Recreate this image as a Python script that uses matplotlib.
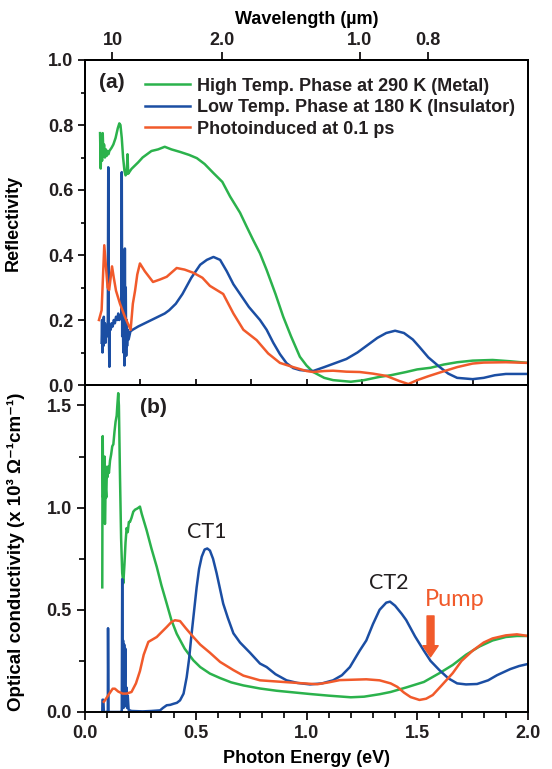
import matplotlib
matplotlib.use("Agg")
import matplotlib.pyplot as plt
from matplotlib.ticker import MultipleLocator, FormatStrFormatter

# ---- panel (a): reflectivity ----
refl_high_e = [0.068, 0.071, 0.074, 0.077, 0.080, 0.083, 0.086, 0.090, 0.094, 0.098, 0.102,
               0.106, 0.110, 0.115, 0.120, 0.128, 0.138, 0.148, 0.155, 0.160, 0.166, 0.172,
               0.178, 0.183, 0.188, 0.192, 0.195, 0.200, 0.210, 0.225, 0.240, 0.260, 0.280,
               0.300, 0.330, 0.360, 0.390, 0.430, 0.470, 0.505, 0.540, 0.580, 0.620, 0.655,
               0.700, 0.730, 0.760, 0.790, 0.820, 0.860, 0.895, 0.930, 0.970, 1.000, 1.030,
               1.080, 1.120, 1.200, 1.260, 1.330, 1.380, 1.450, 1.500, 1.560, 1.620, 1.680,
               1.750, 1.840, 1.920, 2.000]
refl_high = [0.775, 0.666, 0.77, 0.69, 0.775, 0.71, 0.74, 0.70, 0.725, 0.705, 0.72,
             0.71, 0.72, 0.725, 0.73, 0.74, 0.76, 0.79, 0.805, 0.80, 0.76, 0.70,
             0.66, 0.645, 0.65, 0.71, 0.65, 0.655, 0.665, 0.675, 0.685, 0.70, 0.71,
             0.72, 0.725, 0.733, 0.725, 0.717, 0.708, 0.698, 0.68, 0.652, 0.625, 0.58,
             0.53, 0.487, 0.445, 0.405, 0.354, 0.28, 0.21, 0.15, 0.087, 0.06, 0.04,
             0.022, 0.015, 0.01, 0.015, 0.025, 0.03, 0.04, 0.048, 0.053, 0.063, 0.07,
             0.075, 0.077, 0.073, 0.068]

refl_low_e = [0.075, 0.077, 0.079, 0.081, 0.083, 0.085, 0.087, 0.090, 0.093, 0.096, 0.100,
              0.103, 0.105, 0.107, 0.110, 0.112, 0.116, 0.120, 0.125, 0.130, 0.135, 0.140,
              0.146, 0.150, 0.155, 0.160, 0.164, 0.166, 0.168, 0.171, 0.173, 0.176, 0.178,
              0.180, 0.182, 0.184, 0.186, 0.188, 0.190, 0.193, 0.197, 0.205, 0.215, 0.240,
              0.270, 0.300, 0.330, 0.360, 0.380, 0.410, 0.440, 0.480, 0.520, 0.550, 0.580,
              0.610, 0.640, 0.670, 0.700, 0.740, 0.790, 0.820, 0.850, 0.880, 0.910, 0.940,
              0.970, 1.000, 1.030, 1.080, 1.120, 1.180, 1.230, 1.270, 1.320, 1.360, 1.400,
              1.440, 1.480, 1.510, 1.550, 1.600, 1.640, 1.680, 1.750, 1.800, 1.850, 1.900,
              2.000]
refl_low = [0.13, 0.20, 0.10, 0.18, 0.12, 0.21, 0.14, 0.19, 0.13, 0.18, 0.15,
            0.20, 0.67, 0.20, 0.056, 0.18, 0.17, 0.19, 0.18, 0.20, 0.19, 0.21,
            0.20, 0.22, 0.20, 0.21, 0.22, 0.655, 0.15, 0.20, 0.10, 0.20, 0.06,
            0.42, 0.11, 0.30, 0.09, 0.20, 0.12, 0.17, 0.14, 0.165, 0.17, 0.18,
            0.19, 0.20, 0.21, 0.22, 0.23, 0.25, 0.28, 0.33, 0.37, 0.385, 0.394,
            0.385, 0.35, 0.31, 0.28, 0.24, 0.20, 0.17, 0.13, 0.095, 0.067, 0.052,
            0.046, 0.044, 0.043, 0.055, 0.065, 0.08, 0.10, 0.12, 0.145, 0.16, 0.167,
            0.16, 0.14, 0.117, 0.085, 0.056, 0.035, 0.022, 0.018, 0.022, 0.03, 0.034,
            0.034]

refl_photo_e = [0.063, 0.075, 0.087, 0.095, 0.102, 0.109, 0.122, 0.130, 0.140, 0.158, 0.180,
                0.206, 0.216, 0.226, 0.236, 0.248, 0.270, 0.307, 0.340, 0.369, 0.414, 0.450,
                0.490, 0.530, 0.564, 0.600, 0.624, 0.670, 0.715, 0.775, 0.827, 0.880, 0.940,
                1.000, 1.030, 1.080, 1.120, 1.180, 1.240, 1.300, 1.360, 1.420, 1.460, 1.500,
                1.550, 1.600, 1.680, 1.750, 1.800, 1.900, 2.000]
refl_photo = [0.20, 0.23, 0.43, 0.36, 0.30, 0.292, 0.365, 0.33, 0.29, 0.25, 0.21,
              0.17, 0.25, 0.29, 0.34, 0.374, 0.35, 0.317, 0.325, 0.333, 0.36, 0.355,
              0.345, 0.33, 0.305, 0.29, 0.28, 0.22, 0.17, 0.138, 0.097, 0.068, 0.055,
              0.043, 0.04, 0.043, 0.044, 0.041, 0.040, 0.035, 0.028, 0.012, 0.003, 0.015,
              0.027, 0.038, 0.055, 0.066, 0.069, 0.070, 0.068]

# ---- panel (b): optical conductivity (x 10^3 Ohm^-1 cm^-1) ----
cond_high_e = [0.078, 0.079, 0.080, 0.082, 0.084, 0.086, 0.088, 0.090, 0.093, 0.096, 0.099,
               0.102, 0.105, 0.108, 0.113, 0.118, 0.123, 0.128, 0.133, 0.138, 0.143, 0.146,
               0.150, 0.153, 0.158, 0.163, 0.168, 0.173, 0.178, 0.183, 0.188, 0.193, 0.198,
               0.203, 0.210, 0.218, 0.226, 0.235, 0.242, 0.248, 0.256, 0.278, 0.300, 0.324,
               0.345, 0.369, 0.390, 0.414, 0.450, 0.489, 0.520, 0.564, 0.610, 0.660, 0.715,
               0.790, 0.865, 0.950, 1.016, 1.100, 1.200, 1.260, 1.330, 1.380, 1.450, 1.530,
               1.600, 1.660, 1.720, 1.780, 1.840, 1.900, 1.950, 2.000]
cond_high = [0.61, 1.17, 1.35, 1.05, 1.15, 0.95, 1.25, 0.92, 1.10, 1.05, 1.20,
             1.15, 1.20, 1.17, 1.23, 1.26, 1.30, 1.31, 1.37, 1.42, 1.45, 1.50,
             1.56, 1.50, 1.15, 0.85, 0.68, 0.63, 0.72, 0.83, 0.90, 0.88, 0.93,
             0.93, 0.95, 0.98, 0.99, 0.995, 1.00, 1.005, 0.97, 0.89, 0.80, 0.71,
             0.62, 0.53, 0.45, 0.383, 0.31, 0.253, 0.22, 0.188, 0.166, 0.145, 0.13,
             0.115, 0.104, 0.095, 0.088, 0.08, 0.072, 0.075, 0.087, 0.098, 0.12, 0.147,
             0.19, 0.23, 0.28, 0.32, 0.35, 0.367, 0.372, 0.372]

cond_low_e = [0.078, 0.079, 0.083, 0.085, 0.100, 0.103, 0.104, 0.106, 0.160, 0.166, 0.168,
              0.170, 0.172, 0.174, 0.177, 0.179, 0.182, 0.184, 0.187, 0.190, 0.193, 0.197,
              0.210, 0.260, 0.300, 0.339, 0.352, 0.369, 0.385, 0.399, 0.415, 0.429, 0.445,
              0.459, 0.470, 0.480, 0.492, 0.504, 0.515, 0.527, 0.540, 0.552, 0.564, 0.578,
              0.594, 0.610, 0.624, 0.645, 0.670, 0.700, 0.745, 0.790, 0.820, 0.860, 0.910,
              0.960, 1.016, 1.070, 1.120, 1.160, 1.196, 1.240, 1.270, 1.300, 1.330, 1.360,
              1.377, 1.400, 1.430, 1.450, 1.490, 1.530, 1.560, 1.600, 1.640, 1.680, 1.720,
              1.770, 1.820, 1.860, 1.920, 1.960, 2.000]
cond_low = [0.0, 0.06, 0.06, 0.0, 0.0, 0.0, 0.41, 0.0, 0.0, 0.0, 0.65,
            0.10, 0.35, 0.02, 0.33, 0.05, 0.31, 0.03, 0.12, 0.02, 0.08, 0.01,
            0.005, 0.003, 0.005, 0.008, 0.02, 0.033, 0.035, 0.04, 0.045, 0.057, 0.09,
            0.17, 0.26, 0.37, 0.49, 0.61, 0.70, 0.76, 0.795, 0.80, 0.79, 0.75,
            0.68, 0.60, 0.53, 0.46, 0.385, 0.34, 0.29, 0.237, 0.22, 0.185, 0.155,
            0.142, 0.135, 0.14, 0.155, 0.18, 0.22, 0.30, 0.35, 0.43, 0.50, 0.535,
            0.54, 0.52, 0.48, 0.45, 0.37, 0.30, 0.25, 0.205, 0.165, 0.14, 0.135,
            0.137, 0.155, 0.18, 0.21, 0.225, 0.235]

cond_photo_e = [0.085, 0.090, 0.110, 0.125, 0.135, 0.150, 0.170, 0.188, 0.210, 0.230, 0.248,
                0.265, 0.286, 0.305, 0.324, 0.345, 0.369, 0.390, 0.406, 0.429, 0.455, 0.489,
                0.520, 0.564, 0.610, 0.670, 0.715, 0.790, 0.895, 1.016, 1.050, 1.100, 1.150,
                1.270, 1.330, 1.380, 1.410, 1.440, 1.470, 1.510, 1.540, 1.570, 1.610, 1.660,
                1.700, 1.750, 1.800, 1.840, 1.900, 1.950, 2.000]
cond_photo = [0.05, 0.057, 0.09, 0.114, 0.114, 0.10, 0.09, 0.09, 0.098, 0.14, 0.20,
              0.28, 0.343, 0.355, 0.367, 0.39, 0.416, 0.44, 0.449, 0.445, 0.41, 0.367,
              0.33, 0.29, 0.245, 0.205, 0.178, 0.155, 0.147, 0.138, 0.136, 0.145, 0.156,
              0.16, 0.155, 0.14, 0.123, 0.095, 0.073, 0.059, 0.065, 0.083, 0.13, 0.19,
              0.25, 0.30, 0.34, 0.36, 0.375, 0.38, 0.372]

wavelengths = [10, 2.0, 1.0, 0.8]
wavelength_labels = ["10", "2.0", "1.0", "0.8"]

legend_labels = ["High Temp. Phase at 290 K (Metal)",
                 "Low Temp. Phase at 180 K (Insulator)",
                 "Photoinduced at 0.1 ps"]

GREEN = "#2bb24c"
BLUE = "#1b4ea3"
RED = "#f15a2b"
TXT = "#231f20"

plt.rcParams["font.family"] = ["Liberation Sans", "DejaVu Sans"]
plt.rcParams["font.weight"] = "bold"
plt.rcParams["axes.linewidth"] = 1.4
plt.rcParams["text.color"] = TXT

W, H = 552, 769
fig = plt.figure(figsize=(W / 100, H / 100), dpi=100)
x0, x1 = 85, 528
ax1 = fig.add_axes([x0 / W, 1 - 385 / H, (x1 - x0) / W, 325 / H])
ax2 = fig.add_axes([x0 / W, 1 - 712 / H, (x1 - x0) / W, 327 / H])

lw = 1.8
l1, = ax1.plot(refl_high_e, refl_high, color=GREEN, lw=lw)
l2, = ax1.plot(refl_low_e, refl_low, color=BLUE, lw=lw)
l3, = ax1.plot(refl_photo_e, refl_photo, color=RED, lw=lw)

ax2.plot(cond_high_e, cond_high, color=GREEN, lw=lw)
ax2.plot(cond_low_e, cond_low, color=BLUE, lw=lw)
ax2.plot(cond_photo_e, cond_photo, color=RED, lw=lw)

for ax in (ax1, ax2):
    ax.set_xlim(0, 2.0)
    ax.tick_params(labelsize=13, colors=TXT, width=1.4)

ax1.set_ylim(0, 1.0)
ax1.yaxis.set_major_locator(MultipleLocator(0.2))
ax1.yaxis.set_minor_locator(MultipleLocator(0.1))
ax1.yaxis.set_major_formatter(FormatStrFormatter("%.1f"))
ax1.xaxis.set_major_locator(MultipleLocator(0.25))
ax1.tick_params(axis="x", which="both", direction="in", length=4, labelbottom=False)
ax1.tick_params(axis="y", which="major", direction="out", length=5)
ax1.tick_params(axis="y", which="minor", direction="out", length=3, width=1.2)

ax2.set_ylim(0, 1.6)
ax2.yaxis.set_major_locator(MultipleLocator(0.5))
ax2.yaxis.set_minor_locator(MultipleLocator(0.25))
ax2.yaxis.set_major_formatter(FormatStrFormatter("%.1f"))
ax2.xaxis.set_major_locator(MultipleLocator(0.5))
ax2.xaxis.set_minor_locator(MultipleLocator(0.1))
ax2.xaxis.set_major_formatter(FormatStrFormatter("%.1f"))
ax2.tick_params(which="major", direction="out", length=6)
ax2.tick_params(which="minor", direction="out", length=4, width=1.2)

# wavelength axis on top
top = ax1.twiny()
top.set_xlim(ax1.get_xlim())
top.set_xticks([1.23984 / w for w in wavelengths])
top.set_xticklabels(wavelength_labels)
top.tick_params(axis="x", direction="out", length=6, width=1.4, labelsize=13,
                colors=TXT, pad=2)
top.set_xlabel("Wavelength (\u00b5m)", fontsize=13, fontweight="bold", labelpad=6)

ax1.set_ylabel("Reflectivity", fontsize=13, fontweight="bold")
ax1.yaxis.set_label_coords(-0.142, 0.5)
ax2.set_ylabel("Optical conductivity (x 10\u00b3 \u03a9\u207b\u00b9cm\u207b\u00b9)",
               fontsize=13.5, fontweight="bold")
ax2.yaxis.set_label_coords(-0.135, 0.49)
ax2.set_xlabel("Photon Energy (eV)", fontsize=13, fontweight="bold")
ax2.xaxis.set_label_coords(0.5, -0.115)

leg = ax1.legend([l1, l2, l3], legend_labels, loc="upper left",
                 bbox_to_anchor=(0.108, 0.985), frameon=False, handlelength=2.45,
                 handletextpad=0.4, labelspacing=0.25, borderaxespad=0.3,
                 prop={"size": 13, "weight": "bold"})
for t in leg.get_texts():
    t.set_color(TXT)

ax1.text(0.061, 0.93, "(a)", transform=ax1.transAxes, fontsize=15,
         fontweight="bold", ha="center", va="center")
ax2.text(0.155, 0.93, "(b)", transform=ax2.transAxes, fontsize=15,
         fontweight="bold", ha="center", va="center")

ax2.text(0.55, 0.88, "CT1", fontsize=15.5, fontweight="normal", family="Lato",
         ha="center", va="center", color=TXT)
ax2.text(1.37, 0.63, "CT2", fontsize=15.5, fontweight="normal", family="Lato",
         ha="center", va="center", color=TXT)
ax2.text(1.67, 0.55, "Pump", fontsize=17, fontweight="normal", family="Lato",
         ha="center", va="center", color=RED)
ax2.annotate("", xy=(1.56, 0.27), xytext=(1.56, 0.47),
             arrowprops=dict(width=5, headwidth=11, headlength=8, color=RED,
                             shrink=0))

fig.savefig("out.png", dpi=100)
